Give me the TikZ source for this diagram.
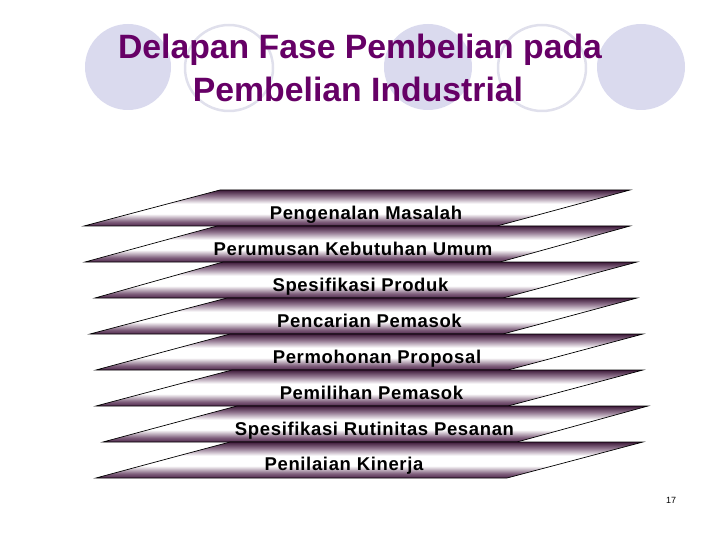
\documentclass[tikz,border=0pt]{standalone}
\usepackage{fontspec}
\setmainfont{Liberation Sans}
\newfontfamily\bandfont[LetterSpace=3.5]{Liberation Sans}
\definecolor{titlepurple}{HTML}{660066}
\definecolor{circfill}{HTML}{DADAEE}
\definecolor{circline}{HTML}{E0E0EC}
\definecolor{bandtop}{HTML}{3E1A3A}
\definecolor{bandmid}{HTML}{957A93}
\definecolor{bandlow}{HTML}{7E5E7B}
\definecolor{bandbot}{HTML}{50284D}
\pgfdeclareverticalshading{bandshade}{100bp}{color(0bp)=(bandbot); color(25bp)=(bandbot); color(31bp)=(bandlow); color(42bp)=(white); color(56bp)=(white); color(66bp)=(bandmid); color(75bp)=(bandtop); color(100bp)=(bandtop)}
\tikzset{
  fullcirc/.style={fill=circfill, draw=none},
  ringcirc/.style={draw=circline, line width=2.5pt, fill=none},
  bandbox/.style={shading=bandshade, draw=black, line width=0.7pt},
  bandtext/.style={anchor=base, inner sep=0pt, font=\bandfont\bfseries\fontsize{18.5}{20}\selectfont, text=black},
  titletext/.style={anchor=base, inner sep=0pt, text=titlepurple, font=\bfseries\fontsize{33.75}{43}\selectfont},
}
\begin{document}
\begin{tikzpicture}[x=1pt, y=-1pt]
\useasboundingbox (0,0) rectangle (720,540);
% background circles
\fill[fullcirc] (128,67) ellipse [x radius=43, y radius=43];
\draw[ringcirc] (229,68) ellipse [x radius=44, y radius=43];
\fill[fullcirc] (428,67) ellipse [x radius=44, y radius=43];
\draw[ringcirc] (542,68) ellipse [x radius=44, y radius=43];
\fill[fullcirc] (641,67) ellipse [x radius=44, y radius=43];
% title
\node[titletext] (title1) at (360,59) {Delapan Fase Pembelian pada};
\node[titletext] (title2) at (358,102) {Pembelian Industrial};
% bands: tip x, top-left x, top-right x, bottom-right x, top y
\foreach \tip/\tl/\tr/\br/\ty [count=\i] in {
  84/220/630/497/190,
  85/217/630/500/226,
  95/223/637/503/262,
  90/227/637/503/298,
  96/230/643/508/334,
  96/232/643/508/370,
  103/237/648/517/406,
  96/230/643/507/442}{
  \shade[bandbox] (\tip,\ty+36) -- (\tl,\ty) -- (\tr,\ty) -- (\br,\ty+36) -- cycle;
}
\node[bandtext] (b1) at (366,219) {Pengenalan Masalah};
\node[bandtext] (b2) at (353,255) {Perumusan Kebutuhan Umum};
\node[bandtext] (b3) at (360.5,291) {Spesifikasi Produk};
\node[bandtext] (b4) at (369.5,327) {Pencarian Pemasok};
\node[bandtext] (b5) at (377,363) {Permohonan Proposal};
\node[bandtext] (b6) at (371.5,399) {Pemilihan Pemasok};
\node[bandtext] (b7) at (374.5,435) {Spesifikasi Rutinitas Pesanan};
\node[bandtext] (b8) at (344,470) {Penilaian Kinerja};
% page number
\node[font=\fontsize{9}{10}\selectfont, inner sep=0pt] (pg) at (671,500) {17};
\end{tikzpicture}
\end{document}
